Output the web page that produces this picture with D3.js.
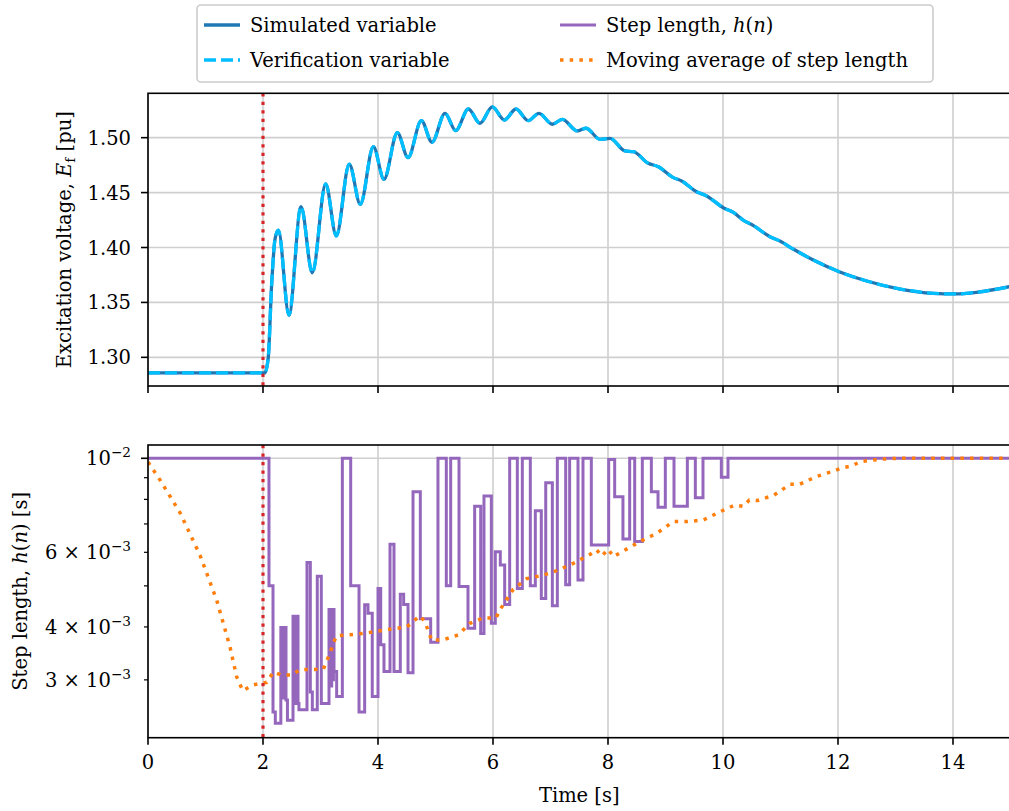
<!DOCTYPE html>
<html>
<head>
<meta charset="utf-8">
<script src="https://cdn.jsdelivr.net/npm/d3@7"></script>
<style>
  body { margin: 0; background: #fff; }
  svg text { font-family: "DejaVu Serif", serif; fill: #000; }
</style>
</head>
<body>
<div id="chart"></div>
<script>
// excitation voltage, simulated and verification
var efTime = [0, 2.03, 2.09, 2.15, 2.21, 2.267, 2.452, 2.661, 2.858, 3.09, 3.275, 3.50, 3.693, 3.919, 4.104,
  4.336, 4.522, 4.754, 4.939, 5.165, 5.351, 5.571, 5.774, 5.988, 6.197, 6.40, 6.614, 6.80, 7.032, 7.205,
  7.466, 7.617, 7.861, 8.035, 8.296, 8.44, 8.70, 8.875, 9.136, 9.28, 9.54, 9.716, 10.02, 10.18, 10.35,
  10.53, 10.817, 10.99, 11.22, 11.57, 12.02, 12.5, 13.08, 13.66, 14.03, 14.41, 15.0];
var efSim = [1.2858, 1.2858, 1.299, 1.366, 1.408, 1.4159, 1.3385, 1.4372, 1.377, 1.4578, 1.4105, 1.476, 1.4393, 1.4918, 1.4621,
  1.5046, 1.4818, 1.5155, 1.4958, 1.5222, 1.5064, 1.5261, 1.5131, 1.528, 1.5161, 1.5261, 1.5155, 1.5222, 1.5122, 1.5167,
  1.5061, 1.5086, 1.4985, 1.4994, 1.4879, 1.4873, 1.4767, 1.4736, 1.4636, 1.4606, 1.4508, 1.4469, 1.4357, 1.432, 1.425,
  1.4199, 1.4098, 1.4059, 1.3986, 1.3886, 1.378, 1.3695, 1.3622, 1.3583, 1.3577, 1.3592, 1.3645];
var efVer = efSim.slice();

// step length h(n), steps-post
var stepTime = [0, 2.104, 2.174, 2.214, 2.310, 2.330, 2.345, 2.365, 2.380, 2.400, 2.425,
  2.522, 2.540, 2.555, 2.575, 2.590, 2.609, 2.625, 2.765, 2.823, 2.858, 2.944, 3.014,
  3.148, 3.175, 3.195, 3.215, 3.225, 3.235, 3.281, 3.380, 3.525, 3.670, 3.768, 3.826, 3.900,
  4.000, 4.047, 4.104, 4.209, 4.278, 4.388, 4.446, 4.522, 4.609, 4.736, 4.916, 5.043, 5.188,
  5.264, 5.409, 5.565, 5.681, 5.786, 5.843, 5.971, 6.040, 6.127, 6.203, 6.290, 6.423, 6.510,
  6.649, 6.736, 6.840, 6.917, 7.032, 7.119, 7.264, 7.333, 7.478, 7.565, 7.710, 8.012, 8.116,
  8.260, 8.377, 8.464, 8.597, 8.754, 8.870, 8.997, 9.148, 9.380, 9.519, 9.652, 9.971, 10.087, 15.0];
var stepLen = [1.00e-2, 5.00e-3, 2.52e-3, 2.37e-3, 3.99e-3, 2.72e-3, 3.99e-3, 2.72e-3, 3.99e-3, 2.69e-3, 2.41e-3,
  4.24e-3, 2.64e-3, 4.24e-3, 2.64e-3, 4.24e-3, 2.64e-3, 2.55e-3, 5.68e-3, 2.81e-3, 2.55e-3, 5.27e-3, 2.64e-3,
  4.40e-3, 2.90e-3, 4.40e-3, 3.00e-3, 4.40e-3, 3.14e-3, 2.74e-3, 1.00e-2, 5.00e-3, 2.52e-3, 4.51e-3, 4.31e-3, 2.74e-3,
  4.93e-3, 3.63e-3, 3.14e-3, 6.27e-3, 3.14e-3, 4.78e-3, 4.52e-3, 3.12e-3, 8.34e-3, 4.18e-3, 3.68e-3, 1.00e-2, 5.00e-3,
  1.00e-2, 4.98e-3, 3.97e-3, 7.71e-3, 3.86e-3, 8.15e-3, 4.08e-3, 6.02e-3, 5.60e-3, 4.52e-3, 1.00e-2, 4.93e-3, 1.00e-2,
  5.00e-3, 7.52e-3, 4.67e-3, 8.76e-3, 4.49e-3, 1.00e-2, 5.03e-3, 1.00e-2, 5.16e-3, 1.00e-2, 6.24e-3, 9.93e-3, 8.12e-3,
  6.45e-3, 1.00e-2, 6.36e-3, 1.00e-2, 8.34e-3, 7.66e-3, 1.00e-2, 7.71e-3, 1.00e-2, 8.07e-3, 1.00e-2, 9.02e-3, 1.00e-2, 1.00e-2];

// moving average of step length
var avgTime = [0, 0.209, 0.557, 0.904, 1.194, 1.426, 1.542, 1.647, 1.832, 2.064, 2.18, 2.325, 2.499, 2.643,
  3.05, 3.165, 3.223, 3.28, 3.745, 4.209, 4.499, 4.73, 4.817, 4.933, 5.136, 5.397, 5.6, 5.832, 6.052, 6.122,
  6.353, 6.586, 6.875, 7.107, 7.397, 7.687, 7.803, 7.89, 8.006, 8.093, 8.383, 8.614, 8.846, 9.136, 9.368,
  9.657, 9.948, 10.209, 10.35, 10.457, 10.6, 10.89, 11.165, 11.33, 11.617, 11.92, 12.07, 12.24, 12.383,
  12.73, 13.05, 15.0];
var avgLen = [9.8e-3, 8.89e-3, 7.44e-3, 5.91e-3, 4.63e-3, 3.59e-3, 3.05e-3, 2.83e-3, 2.92e-3, 2.96e-3, 3.13e-3, 3.08e-3, 3.08e-3, 3.17e-3,
  3.18e-3, 3.47e-3, 3.66e-3, 3.81e-3, 3.86e-3, 3.95e-3, 4.00e-3, 4.25e-3, 4.11e-3, 3.72e-3, 3.73e-3, 3.83e-3, 4.08e-3, 4.20e-3, 4.20e-3, 4.39e-3,
  4.91e-3, 5.20e-3, 5.30e-3, 5.43e-3, 5.65e-3, 5.93e-3, 6.08e-3, 5.88e-3, 6.10e-3, 5.86e-3, 6.17e-3, 6.42e-3, 6.65e-3, 7.09e-3, 7.09e-3,
  7.15e-3, 7.48e-3, 7.76e-3, 7.70e-3, 7.97e-3, 7.95e-3, 8.19e-3, 8.68e-3, 8.68e-3, 9.05e-3, 9.33e-3, 9.50e-3, 9.59e-3, 9.82e-3,
  9.95e-3, 1.00e-2, 1.00e-2];

var eventTime = 2;
var xTicks = [0, 2, 4, 6, 8, 10, 12, 14];
var efTicks = [1.30, 1.35, 1.40, 1.45, 1.50];
var hMajor = [1e-2];
var hMinor = [3e-3, 4e-3, 5e-3, 6e-3, 7e-3, 8e-3, 9e-3];
var hLabels = [{v: 1e-2, m: "", e: "−2"}, {v: 6e-3, m: "6 × ", e: "−3"},
  {v: 4e-3, m: "4 × ", e: "−3"}, {v: 3e-3, m: "3 × ", e: "−3"}];

var W = 1009, H = 811;
var left = 148, right = 1010.5;
var top1 = 93.3, bot1 = 386;
var top2 = 445, bot2 = 737.7;
var fs = 19.5;
var gridColor = "#cfcfcf";
var dotDash = "3.5,6.2";

var svg = d3.select("#chart").append("svg")
  .attr("width", W).attr("height", H);

var x = d3.scaleLinear().domain([0, 15]).range([left, right]);
var y1 = d3.scaleLinear().domain([1.2739, 1.5404]).range([bot1, top1]);
var y2 = d3.scaleLog().domain([0.002191, 0.01075]).range([bot2, top2]);

var defs = svg.append("defs");
defs.append("clipPath").attr("id", "c1").append("rect")
  .attr("x", left).attr("y", top1).attr("width", right - left).attr("height", bot1 - top1);
defs.append("clipPath").attr("id", "c2").append("rect")
  .attr("x", left).attr("y", top2).attr("width", right - left).attr("height", bot2 - top2);

// ---------- top panel ----------
var g1 = svg.append("g");

g1.selectAll(".gx").data(xTicks).join("line")
  .attr("x1", d => x(d)).attr("x2", d => x(d))
  .attr("y1", top1).attr("y2", bot1)
  .attr("stroke", gridColor).attr("stroke-width", 1.6);
g1.selectAll(".gy").data(efTicks).join("line")
  .attr("x1", left).attr("x2", right)
  .attr("y1", d => y1(d)).attr("y2", d => y1(d))
  .attr("stroke", gridColor).attr("stroke-width", 1.6);

var ef = efTime.map((t, i) => ({t: t, s: efSim[i], v: efVer[i]}));

g1.append("path").datum(ef)
  .attr("clip-path", "url(#c1)")
  .attr("fill", "none").attr("stroke", "#1f77b4").attr("stroke-width", 3.3)
  .attr("d", d3.line().curve(d3.curveMonotoneX).x(d => x(d.t)).y(d => y1(d.s)));
g1.append("path").datum(ef)
  .attr("clip-path", "url(#c1)")
  .attr("fill", "none").attr("stroke", "#00bfff").attr("stroke-width", 3.3)
  .attr("stroke-dasharray", "12,5")
  .attr("d", d3.line().curve(d3.curveMonotoneX).x(d => x(d.t)).y(d => y1(d.v)));

g1.append("line")
  .attr("x1", x(eventTime)).attr("x2", x(eventTime)).attr("y1", top1).attr("y2", bot1)
  .attr("stroke", "#d62728").attr("stroke-width", 3.2).attr("stroke-dasharray", "3.2,5.3");

g1.append("rect")
  .attr("x", left).attr("y", top1).attr("width", right - left).attr("height", bot1 - top1)
  .attr("fill", "none").attr("stroke", "#000").attr("stroke-width", 1.6);

g1.selectAll(".tx").data(xTicks).join("line")
  .attr("x1", d => x(d)).attr("x2", d => x(d))
  .attr("y1", bot1).attr("y2", bot1 + 7)
  .attr("stroke", "#000").attr("stroke-width", 1.6);
g1.selectAll(".ty").data(efTicks).join("line")
  .attr("x1", left - 7).attr("x2", left)
  .attr("y1", d => y1(d)).attr("y2", d => y1(d))
  .attr("stroke", "#000").attr("stroke-width", 1.6);
g1.selectAll(".ly").data(efTicks).join("text")
  .attr("x", 131).attr("y", d => y1(d)).attr("dy", "0.36em")
  .attr("text-anchor", "end").style("font-size", fs + "px")
  .text(d => d.toFixed(2));

var lab1 = g1.append("text")
  .attr("transform", "translate(71," + ((top1 + bot1) / 2) + ") rotate(-90)")
  .attr("text-anchor", "middle").style("font-size", fs + "px");
lab1.append("tspan").text("Excitation voltage, ");
lab1.append("tspan").style("font-style", "italic").text("E");
lab1.append("tspan").attr("dy", 4).style("font-size", (fs * 0.7) + "px").text("f");
lab1.append("tspan").attr("dy", -4).text(" [pu]");

// ---------- bottom panel ----------
var g2 = svg.append("g");

g2.selectAll(".gx").data(xTicks).join("line")
  .attr("x1", d => x(d)).attr("x2", d => x(d))
  .attr("y1", top2).attr("y2", bot2)
  .attr("stroke", gridColor).attr("stroke-width", 1.6);
g2.selectAll(".gy").data(hMajor).join("line")
  .attr("x1", left).attr("x2", right)
  .attr("y1", d => y2(d)).attr("y2", d => y2(d))
  .attr("stroke", gridColor).attr("stroke-width", 1.6);

var steps = stepTime.map((t, i) => ({t: t, h: stepLen[i]}));
var avg = avgTime.map((t, i) => ({t: t, h: avgLen[i]}));

g2.append("path").datum(steps)
  .attr("clip-path", "url(#c2)")
  .attr("fill", "none").attr("stroke", "#9467bd").attr("stroke-width", 3)
  .attr("d", d3.line().curve(d3.curveStepAfter).x(d => x(d.t)).y(d => y2(d.h)));
g2.append("path").datum(avg)
  .attr("clip-path", "url(#c2)")
  .attr("fill", "none").attr("stroke", "#ff7f0e").attr("stroke-width", 3.5)
  .attr("stroke-dasharray", dotDash)
  .attr("d", d3.line().x(d => x(d.t)).y(d => y2(d.h)));

g2.append("line")
  .attr("x1", x(eventTime)).attr("x2", x(eventTime)).attr("y1", top2).attr("y2", bot2)
  .attr("stroke", "#d62728").attr("stroke-width", 3.2).attr("stroke-dasharray", "3.2,5.3");

g2.append("rect")
  .attr("x", left).attr("y", top2).attr("width", right - left).attr("height", bot2 - top2)
  .attr("fill", "none").attr("stroke", "#000").attr("stroke-width", 1.6);

g2.selectAll(".tx").data(xTicks).join("line")
  .attr("x1", d => x(d)).attr("x2", d => x(d))
  .attr("y1", bot2).attr("y2", bot2 + 7)
  .attr("stroke", "#000").attr("stroke-width", 1.6);
g2.selectAll(".lx").data(xTicks).join("text")
  .attr("x", d => x(d)).attr("y", 769)
  .attr("text-anchor", "middle").style("font-size", fs + "px")
  .text(d => d);

g2.selectAll(".tyM").data(hMajor).join("line")
  .attr("x1", left - 7).attr("x2", left)
  .attr("y1", d => y2(d)).attr("y2", d => y2(d))
  .attr("stroke", "#000").attr("stroke-width", 1.6);
g2.selectAll(".tym").data(hMinor).join("line")
  .attr("x1", left - 4).attr("x2", left)
  .attr("y1", d => y2(d)).attr("y2", d => y2(d))
  .attr("stroke", "#000").attr("stroke-width", 1.2);

g2.selectAll(".lh").data(hLabels).join("text")
  .attr("x", 131).attr("y", d => y2(d.v)).attr("dy", "0.36em")
  .attr("text-anchor", "end").style("font-size", fs + "px")
  .each(function(d) {
    var t = d3.select(this);
    t.append("tspan").text(d.m + "10");
    t.append("tspan").attr("dy", -8).style("font-size", (fs * 0.7) + "px").text(d.e);
  });

var lab2 = g2.append("text")
  .attr("transform", "translate(27," + ((top2 + bot2) / 2) + ") rotate(-90)")
  .attr("text-anchor", "middle").style("font-size", fs + "px");
lab2.append("tspan").text("Step length, ");
lab2.append("tspan").style("font-style", "italic").text("h");
lab2.append("tspan").text("(");
lab2.append("tspan").style("font-style", "italic").text("n");
lab2.append("tspan").text(") [s]");

svg.append("text")
  .attr("x", (left + right) / 2).attr("y", 802)
  .attr("text-anchor", "middle").style("font-size", fs + "px")
  .text("Time [s]");

// ---------- legend ----------
var leg = svg.append("g");
leg.append("rect")
  .attr("x", 197).attr("y", 5).attr("width", 736).attr("height", 77).attr("rx", 4)
  .attr("fill", "#fff").attr("stroke", "#cccccc").attr("stroke-width", 1.6);

var legItems = [
  {col: 0, row: 0, color: "#1f77b4", dash: null, w: 3.3, label: ["Simulated variable"]},
  {col: 0, row: 1, color: "#00bfff", dash: "12,5", w: 3.3, label: ["Verification variable"]},
  {col: 1, row: 0, color: "#9467bd", dash: null, w: 3, label: ["Step length, ", "h", "(", "n", ")"]},
  {col: 1, row: 1, color: "#ff7f0e", dash: dotDash, w: 3.5, label: ["Moving average of step length"]}
];
var colX = [204, 560], rowY = [25, 60];

legItems.forEach(function(it) {
  var lx = colX[it.col], ly = rowY[it.row];
  leg.append("line")
    .attr("x1", lx).attr("x2", lx + 36).attr("y1", ly).attr("y2", ly)
    .attr("stroke", it.color).attr("stroke-width", it.w)
    .attr("stroke-dasharray", it.dash);
  var t = leg.append("text")
    .attr("x", lx + 46).attr("y", ly).attr("dy", "0.36em")
    .style("font-size", fs + "px");
  it.label.forEach(function(s, i) {
    var sp = t.append("tspan").text(s);
    if (it.label.length > 1 && (i === 1 || i === 3)) sp.style("font-style", "italic");
  });
});
</script>
</body>
</html>
